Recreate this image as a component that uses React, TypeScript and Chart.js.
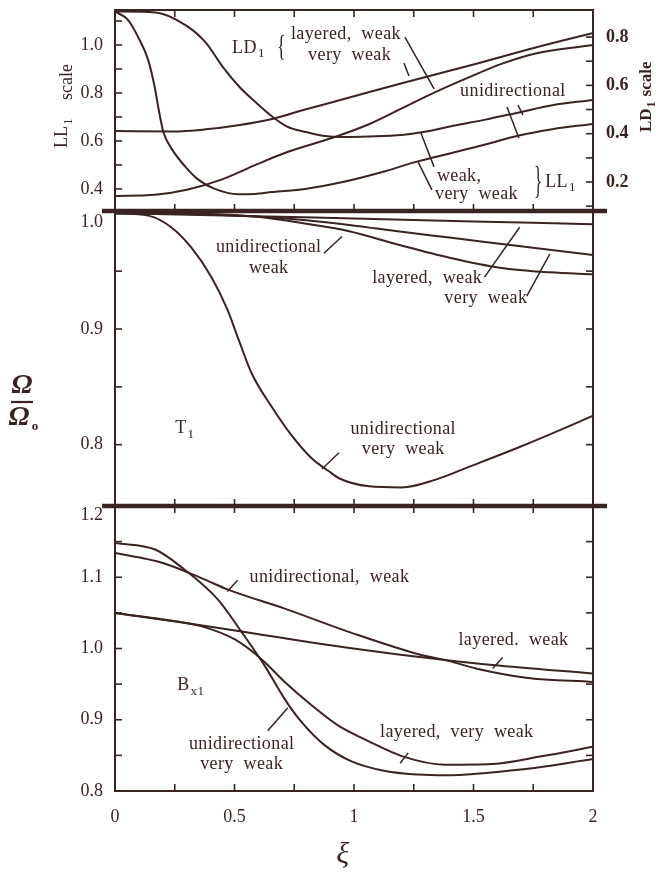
import React, { useEffect, useRef } from 'react';
import { Chart, registerables } from 'chart.js';

Chart.register(...registerables);

const FONT = "'Liberation Serif', 'Times New Roman', Times, serif";
const INK = '#3a2320';

// ---------------- data ----------------
// Top panel: LL1 (left scale) and LD1 (right scale)
const LL_WEAK_XI = [0, 0.17, 0.3, 0.38, 0.45, 0.52, 0.59, 0.66, 0.72, 0.8, 0.87, 0.96, 1.06, 1.2, 1.29, 1.41, 1.55, 1.69, 1.83, 2.0];
const LL_WEAK = [1.14, 1.136, 1.08, 1.01, 0.91, 0.826, 0.76, 0.7, 0.66, 0.637, 0.622, 0.617, 0.619, 0.625, 0.637, 0.662, 0.689, 0.719, 0.749, 0.771];

const LL_VWEAK_XI = [0, 0.054, 0.096, 0.138, 0.165, 0.183, 0.203, 0.238, 0.293, 0.347, 0.418, 0.515, 0.586, 0.657, 0.795, 0.962, 1.13, 1.27, 1.41, 1.55, 1.69, 1.83, 2.0];
const LL_VWEAK = [1.14, 1.105, 1.035, 0.94, 0.83, 0.73, 0.635, 0.566, 0.494, 0.44, 0.4, 0.378, 0.379, 0.387, 0.4, 0.431, 0.474, 0.516, 0.55, 0.585, 0.623, 0.649, 0.671];

const LD_LAY_WEAK_XI = [0, 0.24, 0.38, 0.515, 0.657, 0.795, 0.92, 1.2, 1.48, 1.76, 2.0];
const LD_LAY_WEAK = [0.411, 0.409, 0.418, 0.435, 0.461, 0.5, 0.533, 0.609, 0.681, 0.757, 0.817];

const LD_LAY_VWEAK_XI = [0, 0.167, 0.305, 0.448, 0.586, 0.724, 0.91, 1.06, 1.2, 1.34, 1.48, 1.62, 1.76, 2.0];
const LD_LAY_VWEAK = [0.142, 0.147, 0.169, 0.211, 0.27, 0.325, 0.383, 0.438, 0.505, 0.572, 0.633, 0.69, 0.732, 0.767];

// Middle panel: T1
const T_UNI_VWEAK_XI = [0, 0.139, 0.235, 0.319, 0.403, 0.47, 0.517, 0.571, 0.655, 0.739, 0.824, 0.895, 0.937, 1.063, 1.2, 1.345, 1.483, 1.693, 1.832, 2.0];
const T_UNI_VWEAK = [1.0, 0.998, 0.988, 0.9705, 0.945, 0.917, 0.891, 0.862, 0.833, 0.808, 0.788, 0.777, 0.771, 0.764, 0.763, 0.77, 0.781, 0.798, 0.81, 0.825];

const T_LAY_WEAK_XI = [0, 0.5, 1.0, 1.5, 2.0];
const T_LAY_WEAK = [1.0, 0.998, 0.9955, 0.993, 0.9905];

const T_LAY_VWEAK_XI = [0, 0.3, 0.6, 0.8, 0.98, 1.2, 1.4, 1.68, 2.0];
const T_LAY_VWEAK = [1.0, 0.9995, 0.997, 0.994, 0.99, 0.984, 0.979, 0.972, 0.964];

const T_UNI_WEAK_XI = [0, 0.4, 0.6, 0.8, 0.98, 1.19, 1.4, 1.61, 1.82, 2.0];
const T_UNI_WEAK = [1.0, 0.9995, 0.997, 0.991, 0.9845, 0.9726, 0.9616, 0.953, 0.949, 0.9474];

// Bottom panel: Bx1
const B_UNI_WEAK_XI = [0, 0.2, 0.374, 0.47, 0.71, 0.99, 1.27, 1.38, 1.51, 1.72, 2.0];
const B_UNI_WEAK = [1.134, 1.12, 1.097, 1.083, 1.056, 1.022, 0.992, 0.984, 0.972, 0.959, 0.953];

const B_LAY_WEAK_XI = [0, 0.29, 0.53, 0.85, 1.13, 1.38, 1.58, 2.0];
const B_LAY_WEAK = [1.05, 1.036, 1.024, 1.007, 0.994, 0.984, 0.977, 0.965];

const B_LAY_VWEAK_XI = [0, 0.29, 0.374, 0.5, 0.613, 0.71, 0.824, 0.933, 1.06, 1.2, 1.38, 1.58, 1.79, 2.0];
const B_LAY_VWEAK = [1.05, 1.036, 1.03, 1.013, 0.985, 0.953, 0.92, 0.892, 0.87, 0.849, 0.837, 0.838, 0.849, 0.862];

const B_UNI_VWEAK_XI = [0, 0.168, 0.29, 0.43, 0.53, 0.626, 0.71, 0.78, 0.878, 0.99, 1.13, 1.27, 1.38, 1.72, 2.0];
const B_UNI_VWEAK = [1.148, 1.139, 1.111, 1.069, 1.023, 0.976, 0.929, 0.897, 0.864, 0.8415, 0.828, 0.823, 0.822, 0.831, 0.845];

// tick labels
const XI_TICK_LABELS = ['0', '0.5', '1', '1.5', '2'];
const LL_TICK_LABELS = ['0.4', '0.6', '0.8', '1.0'];
const LD_TICK_LABELS = ['0.2', '0.4', '0.6', '0.8'];
const T_TICK_LABELS = ['0.8', '0.9', '1.0'];
const B_TICK_LABELS = ['0.8', '0.9', '1.0', '1.1', '1.2'];

// ---------------- annotations (data coordinates of each panel) ----------------
const TOP_NOTES = [
  { x: 0.49, y: 0.9875, text: 'LD', sub: '1' },
  { x: 0.678, y: 0.99, text: '{', size: 30, ls: 0, squeeze: 0.6 },
  { x: 0.736, y: 1.046, text: 'layered,  weak' },
  { x: 0.808, y: 0.958, text: 'very  weak' },
  { x: 1.444, y: 0.808, text: 'unidirectional' },
  { x: 1.347, y: 0.454, text: 'weak,' },
  { x: 1.339, y: 0.379, text: 'very  weak' },
  { x: 1.753, y: 0.425, text: '}', size: 38, ls: 0, squeeze: 0.45 },
  { x: 1.8, y: 0.429, text: 'LL', sub: '1' },
];
const TOP_LEADERS = [
  [1.213, 1.033, 1.335, 0.817],
  [1.209, 0.925, 1.23, 0.871],
  [1.64, 0.742, 1.69, 0.6125],
  [1.686, 0.75, 1.707, 0.708],
  [1.28, 0.633, 1.335, 0.492],
  [1.268, 0.5125, 1.326, 0.396],
];
const MID_NOTES = [
  { x: 0.643, y: 0.9707, text: 'unidirectional', align: 'center' },
  { x: 0.643, y: 0.9526, text: 'weak', align: 'center' },
  { x: 1.076, y: 0.944, text: 'layered,  weak' },
  { x: 1.378, y: 0.9267, text: 'very  weak' },
  { x: 0.252, y: 0.8138, text: 'T', sub: '1' },
  { x: 1.206, y: 0.813, text: 'unidirectional', align: 'center' },
  { x: 1.206, y: 0.7957, text: 'very  weak', align: 'center' },
];
const MID_LEADERS = [
  [0.874, 0.9655, 0.95, 0.98],
  [1.546, 0.9448, 1.693, 0.988],
  [1.723, 0.9284, 1.819, 0.9647],
  [0.937, 0.793, 0.866, 0.779],
];
const BOT_NOTES = [
  { x: 0.563, y: 1.1, text: 'unidirectional,  weak' },
  { x: 1.437, y: 1.0113, text: 'layered.  weak' },
  { x: 0.26, y: 0.948, text: 'B', sub: 'x1' },
  { x: 1.109, y: 0.883, text: 'layered,  very  weak' },
  { x: 0.53, y: 0.866, text: 'unidirectional', align: 'center' },
  { x: 0.53, y: 0.838, text: 'very  weak', align: 'center' },
];
const BOT_LEADERS = [
  [0.513, 1.0958, 0.47, 1.08],
  [1.622, 0.9873, 1.58, 0.972],
  [1.227, 0.8535, 1.193, 0.839],
  [0.639, 0.8845, 0.723, 0.917],
];

// ---------------- helpers ----------------
const LEFT_W = 115;
const RIGHT_W = 63;

function series(xs: number[], ys: number[], axis = 'y') {
  return {
    data: xs.map((x, i) => ({ x, y: ys[i] })),
    yAxisID: axis,
    borderColor: INK,
    borderWidth: 2,
    pointRadius: 0,
    fill: false,
    cubicInterpolationMode: 'monotone',
  };
}

function zeroPad(s: any) {
  s.paddingTop = 0;
  s.paddingBottom = 0;
  s.paddingLeft = 0;
  s.paddingRight = 0;
}

function xScale(show: boolean) {
  return {
    type: 'linear',
    min: 0,
    max: 2,
    display: show,
    grid: { display: false, drawTicks: false },
    border: { display: false },
    ticks: {
      stepSize: 0.25,
      autoSkip: false,
      includeBounds: false,
      maxRotation: 0,
      padding: 17,
      color: INK,
      font: { family: FONT, size: 18, lineHeight: 1 },
      callback: (v: number) => (XI_TICK_LABELS.includes(String(v)) ? String(v) : ''),
    },
    title: {
      display: show,
      text: 'ξ   ',
      color: INK,
      font: { family: FONT, size: 30, style: 'italic', lineHeight: 1.2 },
      padding: 0,
    },
    afterFit: (s: any) => {
      zeroPad(s);
      if (show) s.height = 82;
    },
  };
}

function yScale(opts: any) {
  return {
    type: 'linear',
    position: opts.position || 'left',
    min: opts.min,
    max: opts.max,
    grid: { display: false, drawTicks: false },
    border: { display: false },
    ticks: {
      stepSize: opts.step,
      autoSkip: false,
      includeBounds: false,
      padding: opts.position === 'right' ? 13 : 12,
      color: INK,
      font: { family: FONT, size: 18, lineHeight: 1, weight: opts.bold ? 'bold' : 'normal' },
      callback: (v: number) => {
        if (Math.abs(v * 10 - Math.round(v * 10)) > 1e-6) return '';
        const s = v.toFixed(1);
        if (!opts.labels.includes(s)) return '';
        return s === opts.shiftLabel ? ['', s] : s;
      },
    },
    afterFit: (s: any) => {
      zeroPad(s);
      s.width = opts.position === 'right' ? RIGHT_W : LEFT_W;
    },
  };
}

function makeDecor(cfg: any) {
  return {
    id: 'decor',
    afterDatasetsDraw(chart: any) {
      const ctx = chart.ctx;
      const a = chart.chartArea;
      const sx = chart.scales.x;
      const yl = chart.scales.y;
      const yr = chart.scales.yR || chart.scales.y;
      ctx.save();
      ctx.strokeStyle = INK;
      ctx.fillStyle = INK;
      ctx.lineCap = 'butt';
      const seg = (x1: number, y1: number, x2: number, y2: number, w: number) => {
        ctx.lineWidth = w;
        ctx.beginPath();
        ctx.moveTo(x1, y1);
        ctx.lineTo(x2, y2);
        ctx.stroke();
      };
      // frame
      seg(a.left, a.top - 1, a.left, a.bottom + 1, 2);
      seg(a.right, a.top - 1, a.right, a.bottom + 1, 2);
      if (cfg.top === 'thin') seg(a.left - 1, a.top, a.right + 1, a.top, 2);
      if (cfg.bottom === 'thin') seg(a.left - 1, a.bottom, a.right + 1, a.bottom, 2);
      if (cfg.bottom === 'thick') seg(a.left - 13, a.bottom, a.right + 14, a.bottom, 4.5);
      // inner ticks
      const T = 7;
      for (const t of sx.ticks) {
        if (t.value <= 0 || t.value >= 2) continue;
        const px = sx.getPixelForValue(t.value);
        if (cfg.xTop) seg(px, a.top, px, a.top + T, 1.6);
        if (cfg.xBottom) seg(px, a.bottom - T, px, a.bottom, 1.6);
      }
      for (const t of yl.ticks) {
        const py = yl.getPixelForValue(t.value);
        if (py < a.top + 4.5 || py > a.bottom - 4.5) continue;
        seg(a.left, py, a.left + T, py, 1.6);
      }
      for (const t of yr.ticks) {
        const py = yr.getPixelForValue(t.value);
        if (py < a.top + 4.5 || py > a.bottom - 4.5) continue;
        seg(a.right - T, py, a.right, py, 1.6);
      }
      // leader lines
      for (const l of cfg.leaders) {
        seg(sx.getPixelForValue(l[0]), yl.getPixelForValue(l[1]), sx.getPixelForValue(l[2]), yl.getPixelForValue(l[3]), 1.5);
      }
      // notes
      ctx.textBaseline = 'middle';
      ctx.textAlign = 'left';
      for (const n of cfg.notes) {
        const size = n.size || 18;
        const x = sx.getPixelForValue(n.x);
        const y = yl.getPixelForValue(n.y);
        ctx.letterSpacing = (n.ls === undefined ? 0.4 : n.ls) + 'px';
        if (n.squeeze) {
          ctx.save();
          ctx.translate(x, y);
          ctx.scale(n.squeeze, 1);
          ctx.font = `${size}px ${FONT}`;
          ctx.fillText(n.text, 0, 0);
          ctx.restore();
          continue;
        }
        ctx.font = `${size}px ${FONT}`;
        const w = ctx.measureText(n.text).width;
        let sw = 0;
        if (n.sub) {
          ctx.font = `${Math.round(size * 0.72)}px ${FONT}`;
          sw = ctx.measureText(n.sub).width + 1;
        }
        const x0 = n.align === 'center' ? x - (w + sw) / 2 : x;
        ctx.font = `${size}px ${FONT}`;
        ctx.fillText(n.text, x0, y);
        if (n.sub) {
          ctx.font = `${Math.round(size * 0.72)}px ${FONT}`;
          ctx.fillText(n.sub, x0 + w + 1, y + size * 0.33);
        }
      }
      ctx.letterSpacing = '0px';
      if (cfg.extra) cfg.extra(ctx);
      ctx.restore();
    },
  };
}

function baseOptions(scales: any, padding: any) {
  return {
    responsive: false,
    animation: false,
    events: [],
    layout: { padding },
    plugins: { legend: { display: false }, tooltip: { enabled: false } },
    scales,
  };
}

function topConfig() {
  return {
    type: 'line',
    data: {
      datasets: [
        series(LL_WEAK_XI, LL_WEAK, 'y'),
        series(LL_VWEAK_XI, LL_VWEAK, 'y'),
        series(LD_LAY_WEAK_XI, LD_LAY_WEAK, 'yR'),
        series(LD_LAY_VWEAK_XI, LD_LAY_VWEAK, 'yR'),
      ],
    },
    options: baseOptions(
      {
        x: xScale(false),
        y: yScale({ min: 0.308, max: 1.146, step: 0.1, labels: LL_TICK_LABELS }),
        yR: yScale({ position: 'right', min: 0.08, max: 0.912, step: 0.1, labels: LD_TICK_LABELS, bold: true }),
      },
      { top: 10, bottom: 14, left: 0, right: 0 }
    ),
    plugins: [
      makeDecor({
        top: 'thin',
        bottom: 'thick',
        xTop: true,
        xBottom: true,
        notes: TOP_NOTES,
        leaders: TOP_LEADERS,
        extra: (ctx: any) => {
          ctx.textBaseline = 'alphabetic';
          ctx.textAlign = 'left';
          // LL1 scale (left)
          ctx.save();
          ctx.translate(67, 148);
          ctx.rotate(-Math.PI / 2);
          ctx.font = `18px ${FONT}`;
          ctx.fillText('LL', 0, 0);
          const w = ctx.measureText('LL').width;
          ctx.font = `13px ${FONT}`;
          ctx.fillText('1', w + 1, 5);
          ctx.restore();
          ctx.save();
          ctx.translate(72, 100);
          ctx.rotate(-Math.PI / 2);
          ctx.font = `18px ${FONT}`;
          ctx.fillText('scale', 0, 0);
          ctx.restore();
          // LD1 scale (right)
          ctx.save();
          ctx.translate(651, 132);
          ctx.rotate(-Math.PI / 2);
          ctx.font = `bold 17px ${FONT}`;
          ctx.fillText('LD', 0, 0);
          const w2 = ctx.measureText('LD').width;
          ctx.font = `bold 12px ${FONT}`;
          ctx.fillText('1', w2 + 1, 4);
          const w3 = ctx.measureText('1').width;
          ctx.font = `bold 17px ${FONT}`;
          ctx.fillText('scale', w2 + w3 + 6, 0);
          ctx.restore();
        },
      }),
    ],
  };
}

function midConfig() {
  return {
    type: 'line',
    data: {
      datasets: [
        series(T_UNI_VWEAK_XI, T_UNI_VWEAK),
        series(T_LAY_WEAK_XI, T_LAY_WEAK),
        series(T_LAY_VWEAK_XI, T_LAY_VWEAK),
        series(T_UNI_WEAK_XI, T_UNI_WEAK),
      ],
    },
    options: baseOptions(
      {
        x: xScale(false),
        y: yScale({ min: 0.747, max: 1.002, step: 0.05, labels: T_TICK_LABELS, shiftLabel: '1.0' }),
      },
      { top: 21, bottom: 14, left: 0, right: RIGHT_W }
    ),
    plugins: [
      makeDecor({
        top: 'none',
        bottom: 'thick',
        xTop: false,
        xBottom: true,
        notes: MID_NOTES,
        leaders: MID_LEADERS,
        extra: (ctx: any) => {
          const off = 190;
          ctx.textAlign = 'center';
          ctx.textBaseline = 'middle';
          ctx.font = `italic bold 28px ${FONT}`;
          ctx.fillText('Ω', 22, 386 - off);
          ctx.lineWidth = 2.2;
          ctx.beginPath();
          ctx.moveTo(11, 402 - off);
          ctx.lineTo(33, 402 - off);
          ctx.stroke();
          ctx.fillText('Ω', 19, 418 - off);
          ctx.font = `bold 13px ${FONT}`;
          ctx.fillText('o', 35, 427 - off);
        },
      }),
    ],
  };
}

function botConfig() {
  return {
    type: 'line',
    data: {
      datasets: [
        series(B_UNI_WEAK_XI, B_UNI_WEAK),
        series(B_LAY_WEAK_XI, B_LAY_WEAK),
        series(B_LAY_VWEAK_XI, B_LAY_VWEAK),
        series(B_UNI_VWEAK_XI, B_UNI_VWEAK),
      ],
    },
    options: baseOptions(
      {
        x: xScale(true),
        y: yScale({ min: 0.8, max: 1.2, step: 0.05, labels: B_TICK_LABELS, shiftLabel: '1.2' }),
      },
      { top: 26, bottom: 0, left: 0, right: RIGHT_W }
    ),
    plugins: [
      makeDecor({
        top: 'none',
        bottom: 'thin',
        xTop: true,
        xBottom: true,
        notes: BOT_NOTES,
        leaders: BOT_LEADERS,
      }),
    ],
  };
}

export default function App() {
  const r1 = useRef<HTMLCanvasElement>(null);
  const r2 = useRef<HTMLCanvasElement>(null);
  const r3 = useRef<HTMLCanvasElement>(null);

  useEffect(() => {
    const charts = [
      new Chart(r1.current as any, topConfig() as any),
      new Chart(r2.current as any, midConfig() as any),
      new Chart(r3.current as any, botConfig() as any),
    ];
    return () => charts.forEach((c) => c.destroy());
  }, []);

  const cs = (top: number) => ({ position: 'absolute' as const, left: 0, top, display: 'block' });
  return (
    <div style={{ position: 'absolute', left: 0, top: 0, width: 656, height: 873, background: '#ffffff', overflow: 'hidden' }}>
      <canvas ref={r1} width={656} height={225} style={cs(0)} />
      <canvas ref={r2} width={656} height={330} style={cs(190)} />
      <canvas ref={r3} width={656} height={393} style={cs(480)} />
    </div>
  );
}
